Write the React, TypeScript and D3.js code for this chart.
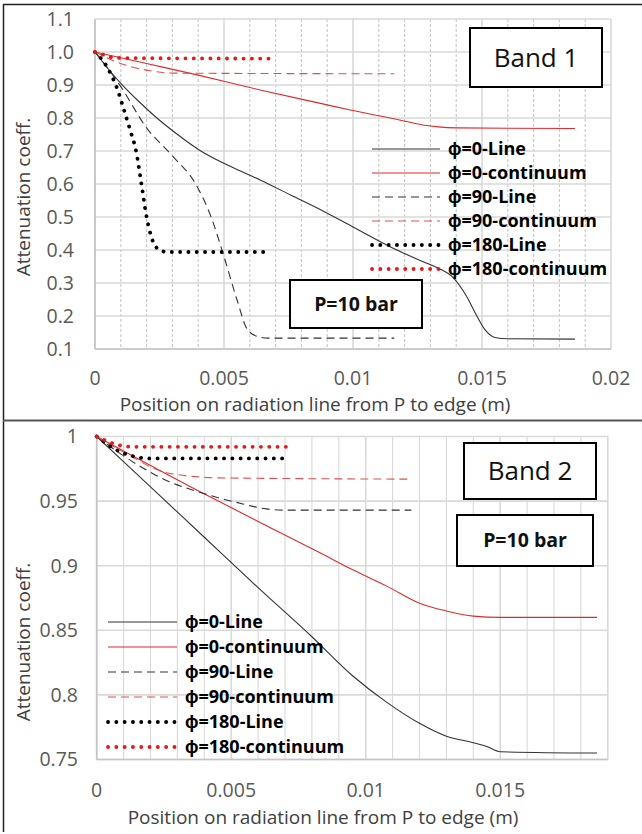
import React from 'react';
import * as d3 from 'd3';

// Band 1 series (x in m, y = attenuation coeff.)
const b1LineX0 = [0, 0.0005, 0.001, 0.0017, 0.0024, 0.0032, 0.0041, 0.0052, 0.0064, 0.0076, 0.0088, 0.01, 0.0117, 0.0127, 0.0133, 0.0139, 0.0144, 0.0148, 0.0151, 0.0155, 0.016, 0.0186];
const b1LineY0 = [1.0, 0.95, 0.905, 0.85, 0.8, 0.75, 0.7, 0.655, 0.612, 0.566, 0.52, 0.47, 0.4, 0.365, 0.345, 0.315, 0.26, 0.2, 0.16, 0.135, 0.131, 0.13];
const b1ContX0 = [0, 0.002, 0.004, 0.0064, 0.0087, 0.0099, 0.0118, 0.0127, 0.0133, 0.014, 0.0186];
const b1ContY0 = [1.0, 0.965, 0.93, 0.885, 0.845, 0.824, 0.794, 0.779, 0.773, 0.77, 0.768];
const b1LineX90 = [0, 0.0005, 0.001, 0.002, 0.003, 0.0039, 0.0045, 0.005, 0.0055, 0.0059, 0.0063, 0.0067, 0.0116];
const b1LineY90 = [1.0, 0.95, 0.895, 0.77, 0.685, 0.6, 0.5, 0.38, 0.25, 0.16, 0.138, 0.133, 0.133];
const b1ContX90 = [0, 0.001, 0.002, 0.003, 0.0116];
const b1ContY90 = [1.0, 0.965, 0.945, 0.936, 0.934];
const b1LineX180 = [0, 0.0005, 0.0009, 0.0011, 0.00136, 0.0016, 0.0018, 0.002, 0.0022, 0.0025, 0.0028, 0.0068];
const b1LineY180 = [1.0, 0.95, 0.88, 0.83, 0.764, 0.697, 0.6, 0.5, 0.436, 0.4, 0.394, 0.394];
const b1ContX180 = [0, 0.0004, 0.0008, 0.007];
const b1ContY180 = [1.0, 0.99, 0.982, 0.98];

// Band 2 series
const b2LineX0 = [0, 0.002, 0.004, 0.006, 0.008, 0.0095, 0.0108, 0.012, 0.013, 0.014, 0.0145, 0.015, 0.0186];
const b2LineY0 = [1.0, 0.961, 0.922, 0.883, 0.845, 0.815, 0.794, 0.778, 0.768, 0.763, 0.76, 0.756, 0.755];
const b2ContX0 = [0, 0.0035, 0.0064, 0.0083, 0.0095, 0.0108, 0.012, 0.013, 0.014, 0.015, 0.0186];
const b2ContY0 = [1.0, 0.961, 0.93, 0.91, 0.897, 0.884, 0.871, 0.865, 0.861, 0.86, 0.86];
const b2LineX90 = [0, 0.001, 0.0027, 0.0038, 0.0052, 0.0063, 0.007, 0.0117];
const b2LineY90 = [1.0, 0.985, 0.965, 0.957, 0.949, 0.944, 0.943, 0.943];
const b2ContX90 = [0, 0.001, 0.0026, 0.0045, 0.0117];
const b2ContY90 = [1.0, 0.988, 0.972, 0.968, 0.967];
const b2LineX180 = [0, 0.0007, 0.0013, 0.002, 0.007];
const b2LineY180 = [1.0, 0.99, 0.985, 0.983, 0.983];
const b2ContX180 = [0, 0.0007, 0.0013, 0.0071];
const b2ContY180 = [1.0, 0.994, 0.992, 0.992];

const seriesNames = ['ϕ=0-Line', 'ϕ=0-continuum', 'ϕ=90-Line', 'ϕ=90-continuum', 'ϕ=180-Line', 'ϕ=180-continuum'];
const b1XTicks = [0, 0.005, 0.01, 0.015, 0.02];
const b1XTickLabels = ['0', '0.005', '0.01', '0.015', '0.02'];
const b1YTicks = [0.1, 0.2, 0.3, 0.4, 0.5, 0.6, 0.7, 0.8, 0.9, 1.0, 1.1];
const b1YTickLabels = ['0.1', '0.2', '0.3', '0.4', '0.5', '0.6', '0.7', '0.8', '0.9', '1.0', '1.1'];
const b2XTicks = [0, 0.005, 0.01, 0.015];
const b2XTickLabels = ['0', '0.005', '0.01', '0.015'];
const b2YTicks = [0.75, 0.8, 0.85, 0.9, 0.95, 1];
const b2YTickLabels = ['0.75', '0.8', '0.85', '0.9', '0.95', '1'];

const styles = [
  { color: '#333', dash: null, width: 1.1 },
  { color: '#e02a2a', dash: null, width: 1.1 },
  { color: '#333', dash: '8 5', width: 1.1 },
  { color: '#e05050', dash: '8 5', width: 1.1 },
  { color: '#000', dash: '0.1 8.2', width: 3.8, round: true },
  { color: '#e81818', dash: '0.1 8.2', width: 3.8, round: true },
];

const FONT = '"Open Sans", sans-serif';

function Panel({ cfg }) {
  const x = d3.scaleLinear().domain(cfg.xDomain).range(cfg.xRange);
  const y = d3.scaleLinear().domain(cfg.yDomain).range(cfg.yRange);
  const line = d3.line().x(d => x(d[0])).y(d => y(d[1])).curve(d3.curveMonotoneX);
  const minor = d3.range(0, Math.round(cfg.xDomain[1] / 0.001) + 1).map(i => i * 0.001);
  const [x0, x1] = cfg.xRange;
  const [yb, yt] = cfg.yRange;

  return (
    <g>
      {/* grid */}
      {minor.map((v, i) => {
        const major = i % 5 === 0 || i === minor.length - 1;
        return (
          <line key={'v' + i} x1={x(v)} x2={x(v)} y1={yt} y2={yb}
            stroke={major || !cfg.dashedMinor ? '#d9d9d9' : '#c8c8c8'}
            strokeWidth={major ? 1.6 : 1.1}
            strokeDasharray={cfg.dashedMinor && !major ? '3 2' : null} />
        );
      })}
      {cfg.yTicks.map((v, i) => (
        <line key={'h' + i} x1={x0} x2={x1} y1={y(v)} y2={y(v)} stroke="#d9d9d9" strokeWidth={1.6} />
      ))}
      <line x1={x0} x2={x0} y1={yt} y2={yb} stroke="#c4c4c4" strokeWidth={1.6} />
      <line x1={x0} x2={x1} y1={yb} y2={yb} stroke="#c4c4c4" strokeWidth={1.6} />

      {/* tick labels */}
      {cfg.yTicks.map((v, i) => (
        <text key={'yl' + i} x={cfg.yLabelX} y={y(v)} dy="0.35em" textAnchor="end"
          fontFamily={FONT} fontSize={19.5} fill="#595959">{cfg.yTickLabels[i]}</text>
      ))}
      {cfg.xTicks.map((v, i) => (
        <text key={'xl' + i} x={x(v)} y={cfg.xLabelY} textAnchor="middle"
          fontFamily={FONT} fontSize={19.5} fill="#595959">{cfg.xTickLabels[i]}</text>
      ))}
      <text x={cfg.xTitleX} y={cfg.xTitleY} textAnchor="middle" fontFamily={FONT} fontSize={19} fill="#404040">
        Position on radiation line from P to edge (m)
      </text>
      <text transform={`translate(${cfg.yTitleX},${cfg.yTitleY}) rotate(-90)`} textAnchor="middle" dy="0.35em"
        fontFamily={FONT} fontSize={19} fill="#404040">Attenuation coeff.</text>

      {/* curves */}
      {cfg.series.map((s, i) => (
        <path key={'s' + i}
          d={line(s.xs.map((v, j) => [v, s.ys[j]]))}
          fill="none" stroke={styles[i].color} strokeWidth={styles[i].width}
          strokeDasharray={styles[i].dash} strokeLinecap={styles[i].round ? 'round' : 'butt'} />
      ))}

      {/* legend */}
      {seriesNames.map((name, i) => {
        const ly = cfg.legendY[i];
        return (
          <g key={'lg' + i}>
            <line x1={cfg.legendX[0]} x2={cfg.legendX[1]} y1={ly} y2={ly}
              stroke={styles[i].color} strokeWidth={styles[i].width}
              strokeDasharray={styles[i].dash} strokeLinecap={styles[i].round ? 'round' : 'butt'} />
            <text x={cfg.legendX[1] + 8} y={ly} dy="0.35em" fontFamily={FONT} fontWeight="bold"
              fontSize={18} fill="#000">{name}</text>
          </g>
        );
      })}

      {/* boxes */}
      {cfg.boxes.map((b, i) => (
        <g key={'b' + i}>
          <rect x={b.x} y={b.y} width={b.w} height={b.h} fill="#fff" stroke="#000" strokeWidth={2} />
          <text x={b.x + b.w / 2} y={b.y + b.h / 2} dy="0.35em" textAnchor="middle" fontFamily={FONT}
            fontSize={b.size} fontWeight={b.bold ? 'bold' : 'normal'} fill="#111">{b.text}</text>
        </g>
      ))}
    </g>
  );
}

const band1 = {
  xDomain: [0, 0.02], xRange: [95, 611],
  yDomain: [0.1, 1.1], yRange: [349, 19],
  dashedMinor: true,
  xTicks: b1XTicks, xTickLabels: b1XTickLabels, yTicks: b1YTicks, yTickLabels: b1YTickLabels,
  yLabelX: 74, xLabelY: 385, xTitleX: 315, xTitleY: 411, yTitleX: 23, yTitleY: 197,
  series: [
    { xs: b1LineX0, ys: b1LineY0 }, { xs: b1ContX0, ys: b1ContY0 },
    { xs: b1LineX90, ys: b1LineY90 }, { xs: b1ContX90, ys: b1ContY90 },
    { xs: b1LineX180, ys: b1LineY180 }, { xs: b1ContX180, ys: b1ContY180 },
  ],
  legendX: [372, 440], legendY: [149, 173, 197, 221, 245, 269],
  boxes: [
    { x: 470, y: 28, w: 132, h: 59, text: 'Band 1', size: 26 },
    { x: 290, y: 280, w: 132, h: 48, text: 'P=10 bar', size: 19.5, bold: true },
  ],
};

const band2 = {
  xDomain: [0, 0.019], xRange: [96.7, 607.8],
  yDomain: [0.75, 1], yRange: [759.5, 436.5],
  dashedMinor: false,
  xTicks: b2XTicks, xTickLabels: b2XTickLabels, yTicks: b2YTicks, yTickLabels: b2YTickLabels,
  yLabelX: 78, xLabelY: 797, xTitleX: 323, xTitleY: 824, yTitleX: 23, yTitleY: 642,
  series: [
    { xs: b2LineX0, ys: b2LineY0 }, { xs: b2ContX0, ys: b2ContY0 },
    { xs: b2LineX90, ys: b2LineY90 }, { xs: b2ContX90, ys: b2ContY90 },
    { xs: b2LineX180, ys: b2LineY180 }, { xs: b2ContX180, ys: b2ContY180 },
  ],
  legendX: [108, 177], legendY: [622, 647, 672, 697, 722, 747],
  boxes: [
    { x: 464, y: 443, w: 132, h: 56, text: 'Band 2', size: 26 },
    { x: 457, y: 515, w: 136, h: 51, text: 'P=10 bar', size: 19.5, bold: true },
  ],
};

export default function App() {
  return (
    <div>
      <style>{`body { margin: 0; }`}</style>
      <svg width={642} height={834} style={{ display: 'block', background: '#fff' }}>
        <Panel cfg={band1} />
        <Panel cfg={band2} />
        {/* frame */}
        <line x1={3} x2={642} y1={4.5} y2={4.5} stroke="#222" strokeWidth={1.5} />
        <line x1={3.5} x2={3.5} y1={4} y2={832} stroke="#222" strokeWidth={1.5} />
        <line x1={3} x2={642} y1={420.5} y2={420.5} stroke="#555" strokeWidth={1.8} />
      </svg>
    </div>
  );
}
